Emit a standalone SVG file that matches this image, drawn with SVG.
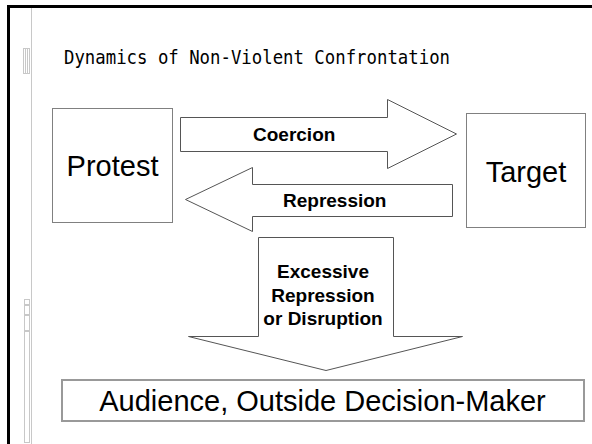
<svg xmlns="http://www.w3.org/2000/svg" width="592" height="444" viewBox="0 0 592 444">
<style>
.bg{fill:#fff}
.frame{stroke:#000;stroke-width:3;fill:none}
.guide{stroke:#c8c8c8;stroke-width:1;fill:none}
.box{fill:#fff;stroke:#808080;stroke-width:1}
.abox{fill:#fff;stroke:#999;stroke-width:2}
.arrow{fill:#fff;stroke:#555;stroke-width:1;stroke-linejoin:miter}
.big{font-family:"Liberation Sans",Arial,sans-serif;font-size:29px;fill:#000}
.lbl{font-family:"Liberation Sans",Arial,sans-serif;font-size:19px;font-weight:bold;fill:#000}
.title{font-family:"DejaVu Sans Mono","Liberation Mono",monospace;font-size:19.5px;fill:#000}
</style>
<rect class="bg" x="0" y="0" width="592" height="444"/>
<g id="frame">
<path class="frame" d="M8.5,444 V6.5 H592"/>
<line class="guide" x1="31.5" y1="8" x2="31.5" y2="444"/>
<rect class="guide" x="23.5" y="48.5" width="6" height="25"/>
<line class="guide" x1="25.5" y1="49" x2="25.5" y2="73"/>
<line class="guide" x1="27.5" y1="49" x2="27.5" y2="73"/>
<rect class="guide" x="24.5" y="299.5" width="5" height="5"/>
<rect class="guide" x="24.5" y="305.5" width="5" height="9"/>
<rect class="guide" x="24.5" y="315.5" width="5" height="15"/>
<rect class="guide" x="24.5" y="331.5" width="5" height="111"/>
</g>
<text class="title" x="64" y="64" textLength="386" lengthAdjust="spacingAndGlyphs">Dynamics of Non-Violent Confrontation</text>
<g id="connectors">
<g id="coercion">
<polygon class="arrow" points="180.5,117.5 387.5,117.5 387.5,99.5 456.5,134 387.5,168.5 387.5,151.5 180.5,151.5"/>
<text class="lbl" x="253" y="141">Coercion</text>
</g>
<g id="repression">
<polygon class="arrow" points="452.5,184.5 252.5,184.5 252.5,167.5 185.5,199.5 252.5,231.5 252.5,216.5 452.5,216.5"/>
<text class="lbl" x="283" y="207">Repression</text>
</g>
<g id="excessive">
<polygon class="arrow" points="258.5,237.5 393.5,237.5 393.5,336.5 462.5,336.5 326,370.5 188.5,336.5 258.5,336.5"/>
<text class="lbl" text-anchor="middle" x="323" y="278">Excessive</text>
<text class="lbl" text-anchor="middle" x="323" y="301.5">Repression</text>
<text class="lbl" text-anchor="middle" x="323" y="325">or Disruption</text>
</g>
</g>
<g id="protest">
<rect class="box" x="52.5" y="108.5" width="120" height="114"/>
<text class="big" text-anchor="middle" x="112.5" y="176">Protest</text>
</g>
<g id="target">
<rect class="box" x="466.5" y="113.5" width="119" height="114"/>
<text class="big" text-anchor="middle" x="526" y="182">Target</text>
</g>
<g id="audience">
<rect class="abox" x="62" y="380" width="522" height="41"/>
<text class="big" text-anchor="middle" x="322.5" y="411">Audience, Outside Decision-Maker</text>
</g>
</svg>
